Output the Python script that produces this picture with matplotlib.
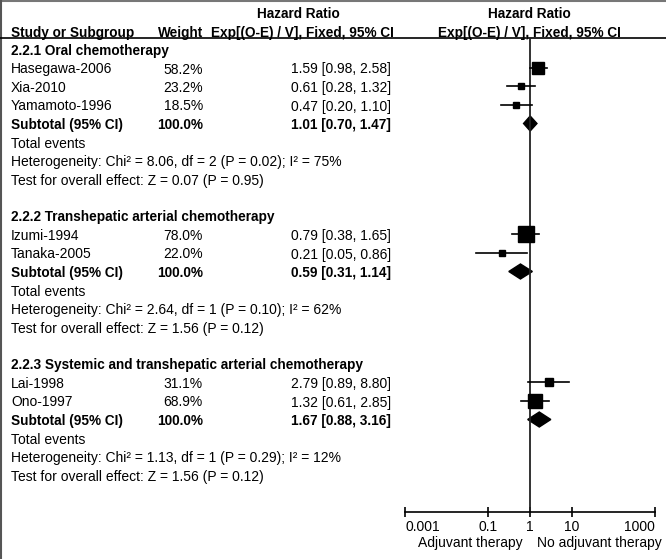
import numpy as np
import matplotlib
matplotlib.use('Agg')
import matplotlib.pyplot as plt

plt.rcParams['font.family'] = ['Liberation Sans', 'DejaVu Sans']
plt.rcParams['font.size'] = 10
BOLD = 9.8

# Данные
groups = ['2.2.1 Oral chemotherapy',
          '2.2.2 Transhepatic arterial chemotherapy',
          '2.2.3 Systemic and transhepatic arterial chemotherapy']
study_names = [['Hasegawa-2006', 'Xia-2010', 'Yamamoto-1996'],
               ['Izumi-1994', 'Tanaka-2005'],
               ['Lai-1998', 'Ono-1997']]
weights = [[58.2, 23.2, 18.5], [78.0, 22.0], [31.1, 68.9]]
hr = [[1.59, 0.61, 0.47], [0.79, 0.21], [2.79, 1.32]]
ci_low = [[0.98, 0.28, 0.20], [0.38, 0.05], [0.89, 0.61]]
ci_high = [[2.58, 1.32, 1.10], [1.65, 0.86], [8.80, 2.85]]
sub_hr = [1.01, 0.59, 1.67]
sub_low = [0.70, 0.31, 0.88]
sub_high = [1.47, 1.14, 3.16]
chi2 = [8.06, 2.64, 1.13]
het_df = [2, 1, 1]
het_p = [0.02, 0.10, 0.29]
i2 = [75, 62, 12]
z_val = [0.07, 1.56, 1.56]
z_p = [0.95, 0.12, 0.12]
ticks = [0.001, 0.1, 1, 10, 1000]
tick_labels = ['0.001', '0.1', '1', '10', '1000']

W, H = 666, 559
fig = plt.figure(figsize=(W / 100, H / 100), dpi=100)

# таблица в пикселях
ax0 = fig.add_axes([0, 0, 1, 1])
ax0.set_xlim(0, W)
ax0.set_ylim(H, 0)
ax0.axis('off')


def txt(x, y, s, ha='left', bold=False):
    if bold:
        ax0.text(x, y, s, ha=ha, va='center_baseline', fontweight='bold', fontsize=BOLD)
    else:
        ax0.text(x, y, s, ha=ha, va='center_baseline')


top_y, axis_y = 38, 512
ax = fig.add_axes([405 / W, (H - axis_y) / H, 250 / W, (axis_y - top_y) / H])
ax.set_xscale('log')
ax.set_xlim(0.001, 1000)
ax.set_ylim(axis_y, top_y)
ax.patch.set_alpha(0)
for s in ['top', 'left', 'right']:
    ax.spines[s].set_visible(False)
ax.spines['bottom'].set_linewidth(1.2)
ax.set_yticks([])
ax.set_xticks(ticks)
ax.set_xticklabels(tick_labels)
ax.minorticks_off()
ax.tick_params(axis='x', direction='inout', length=7, width=1.2, pad=2, labelsize=10)
labels = ax.get_xticklabels()
labels[0].set_ha('left')
labels[-1].set_ha('right')
ax.axvline(1, color='#222222', lw=1.3)

# заголовки
ax0.axhline(1, color='#777777', lw=1.5)
ax0.axvline(1, color='#555555', lw=1.5)
ax0.axhline(top_y, color='black', lw=1.2)
txt(298, 12, 'Hazard Ratio', 'center', True)
txt(529, 12, 'Hazard Ratio', 'center', True)
txt(11, 31, 'Study or Subgroup', 'left', True)
txt(203, 31, 'Weight', 'right', True)
txt(302, 31, 'Exp[(O-E) / V], Fixed, 95% CI', 'center', True)
txt(529, 31, 'Exp[(O-E) / V], Fixed, 95% CI', 'center', True)

step = 18.5
y = 49.5
for g in range(len(groups)):
    txt(11, y, groups[g], 'left', True)
    y += step
    for name, w, h, lo, hi in zip(study_names[g], weights[g], hr[g], ci_low[g], ci_high[g]):
        txt(11, y, name)
        txt(203, y, f'{w:.1f}%', 'right')
        txt(391, y, f'{h:.2f} [{lo:.2f}, {hi:.2f}]', 'right')
        ax.plot([lo, hi], [y, y], color='black', lw=1.2)
        side = 0.61 * w ** 0.75
        ax.plot(h, y, marker='s', ms=side * 0.72, color='black', mec='black')
        y += step
    txt(11, y, 'Subtotal (95% CI)', 'left', True)
    txt(203, y, '100.0%', 'right', True)
    txt(391, y, f'{sub_hr[g]:.2f} [{sub_low[g]:.2f}, {sub_high[g]:.2f}]', 'right', True)
    ax.fill([sub_low[g], sub_hr[g], sub_high[g], sub_hr[g]],
            [y, y - 7.5, y, y + 7.5], color='black')
    y += step
    txt(11, y, 'Total events')
    y += step
    txt(11, y, f'Heterogeneity: Chi² = {chi2[g]:.2f}, df = {het_df[g]} '
        f'(P = {het_p[g]:.2f}); I² = {i2[g]}%')
    y += step
    txt(11, y, f'Test for overall effect: Z = {z_val[g]:.2f} (P = {z_p[g]:.2f})')
    y += 2 * step

txt(523, 542, 'Adjuvant therapy', 'right')
txt(537, 542, 'No adjuvant therapy', 'left')

fig.savefig('out.png', dpi=100)
